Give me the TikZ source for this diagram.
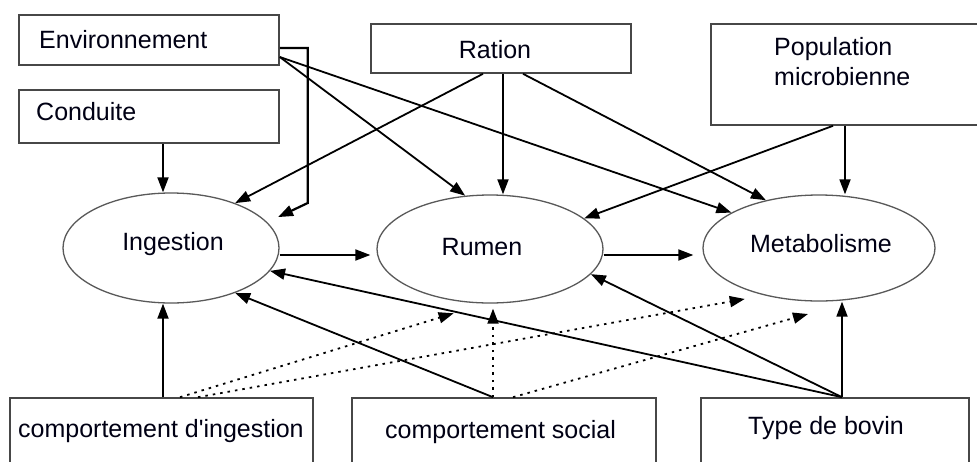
\documentclass[tikz,border=0pt]{standalone}
\usepackage{fontspec}
\setmainfont{Liberation Sans}
\usetikzlibrary{arrows.meta,shapes.geometric,calc}
\begin{document}
\begin{tikzpicture}[x=1pt,y=-1pt,
  box/.style n args={2}{draw=black!72,line width=1.6pt,minimum width=#1,minimum height=#2,inner sep=0pt,fill=white},
  ell/.style n args={2}{ellipse,draw=black!65,line width=1.3pt,minimum width=#1,minimum height=#2,inner sep=0pt},
  lbl/.style={anchor=base west,inner sep=0pt,font=\fontsize{25}{30}\selectfont,text=black!92!blue},
  arr/.style={-{Triangle[length=15pt,width=11pt]},line width=1.8pt,black},
  dotarr/.style={arr,line width=1.8pt,dash pattern=on 2.5pt off 5pt}]
\useasboundingbox (0,0) rectangle (977,461);
\fill[white] (0,0) rectangle (977,461);
\clip (0,0) rectangle (977,461);

% boxes
\node[box={260}{50}] (env) at (149,40) {};
\node[box={260}{53}] (cond) at (149,116.5) {};
\node[box={260}{49}] (ration) at (501,48.5) {};
\node[box={280}{101}] (pop) at (851,74.5) {};
\node[box={303}{90}] (ci) at (161.5,443) {};
\node[box={304}{90}] (cs) at (504,443) {};
\node[box={268}{90}] (tb) at (835,443) {};

% ellipses
\node[ell={216}{110}] (ing) at (171,248) {};
\node[ell={226}{108}] (rum) at (490,249) {};
\node[ell={232}{106}] (met) at (819,248) {};

% texts
\node[lbl] (tenv) at (39,48) {Environnement};
\node[lbl] (tcond) at (36,120) {Conduite};
\node[lbl,anchor=base] (tration) at (495,58) {Ration};
\node[lbl] (tpop1) at (774,55) {Population};
\node[lbl] (tpop2) at (774,85) {microbienne};
\node[lbl,anchor=base] (ting) at (173,250) {Ingestion};
\node[lbl,anchor=base] (trum) at (482,255) {Rumen};
\node[lbl,anchor=base] (tmet) at (821,252) {Metabolisme};
\node[lbl] (tci) at (18,437) {comportement d\textquotesingle ingestion};
\node[lbl] (tcs) at (385,438) {comportement social};
\node[lbl] (ttb) at (748,434) {Type de bovin};

% top arrows
\draw[arr] ([xshift=14pt]cond.south) -- ([xshift=-8pt]ing.north);
\draw[arr,line width=2.2pt,shorten >=12pt] ([yshift=-8pt]env.east) -- ++(28,0) -- ++(0,155) -- (ing.15);
\draw[arr] ([yshift=-17pt]env.east) -- (rum.115);
\draw[arr] ([yshift=-17pt]env.east) -- (met.158);
\draw[arr] ([xshift=-18pt]ration.south) -- (ing.35);
\draw[arr] ([xshift=2pt]ration.south) -- ([xshift=13pt]rum.north);
\draw[arr] ([xshift=22pt]ration.south) -- (met.138);
\draw[arr] ([xshift=-18pt]pop.south) -- (rum.18);
\draw[arr] ([xshift=-6pt]pop.south) -- ([xshift=26pt]met.north);

% middle arrows
\draw[arr,shorten >=6pt] ([yshift=-7pt]ing.east) -- ([yshift=-6pt]rum.west);
\draw[arr,shorten >=9pt] ([yshift=-6pt]rum.east) -- ([yshift=-7pt]met.west);

% bottom arrows
\draw[arr] ([xshift=1.5pt]ci.north) -- ([xshift=-8pt]ing.south);
\draw[arr] ([xshift=-11pt]cs.north) -- (ing.-35);
\draw[arr] ([xshift=7pt]tb.north) -- (ing.-13);
\draw[arr] ([xshift=7pt]tb.north) -- (rum.-14);
\draw[arr] ([xshift=7pt]tb.north) -- ([xshift=23pt]met.south);

% dotted arrows
\draw[dotarr,shorten >=33pt] ([xshift=18.5pt]ci.north) -- (rum.-95);
\draw[dotarr,shorten >=20pt] ([xshift=36.5pt]ci.north) -- (met.-139);
\draw[dotarr,shorten >=5pt] ([xshift=-11pt]cs.north) -- ([xshift=3pt]rum.south);
\draw[dotarr,shorten >=78pt] ([xshift=9pt]cs.north) -- (met.-35.5);
\end{tikzpicture}
\end{document}
